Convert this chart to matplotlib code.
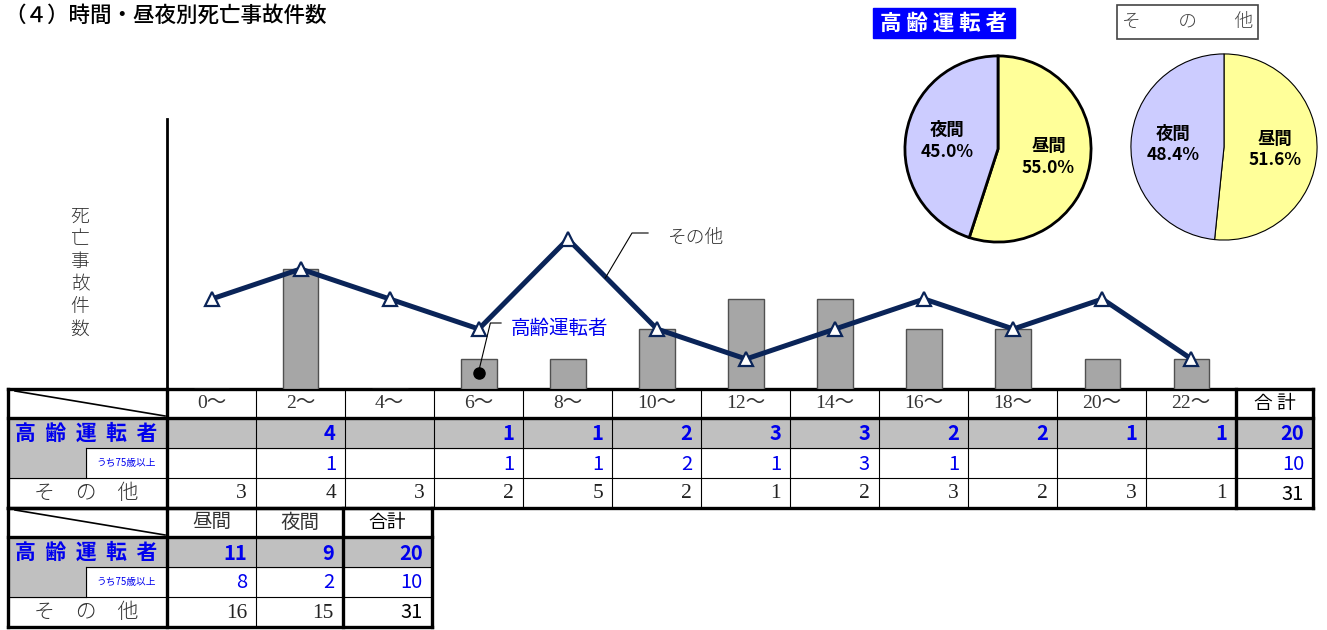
import matplotlib
matplotlib.use("Agg")
import matplotlib.pyplot as plt
from matplotlib.patches import Rectangle

plt.rcParams['font.family'] = ['Noto Sans CJK JP', 'DejaVu Sans']

# data
hours = ["0～", "2～", "4～", "6～", "8～", "10～", "12～", "14～", "16～", "18～", "20～", "22～"]
elderly = [0, 4, 0, 1, 1, 2, 3, 3, 2, 2, 1, 1]
elderly75 = [0, 1, 0, 1, 1, 2, 1, 3, 1, 0, 0, 0]
others = [3, 4, 3, 2, 5, 2, 1, 2, 3, 2, 3, 1]

dn_labels = ["昼間", "夜間"]
elderly_dn = [11, 9]
elderly75_dn = [8, 2]
others_dn = [16, 15]

BLUE = "#0000ee"
NAVY = "#0a2458"
GRAYCELL = "#c0c0c0"
SERIF = ['Liberation Serif', 'Noto Sans CJK JP']

fig = plt.figure(figsize=(13.27, 6.30), dpi=100)
ov = fig.add_axes([0, 0, 1, 1])
ov.set_xlim(0, 1327)
ov.set_ylim(630, 0)
ov.axis('off')

# title
ov.text(4, 16, "（４）時間・昼夜別死亡事故件数", fontsize=15.5, fontweight='medium', va='center', ha='left')

# y label
ov.text(80, 273, "\n".join("死亡事故件数"), fontsize=13.5, va='center', ha='center',
        color='#333333', fontweight='light', linespacing=1.33)

# ---- main chart ----
W, H = 1327, 630
ax = fig.add_axes([167 / W, (H - 389) / H, (1236 - 167) / W, (389 - 119) / H])
ax.patch.set_alpha(0)
x = list(range(len(hours)))
ax.bar(x, elderly, width=0.4, color="#a6a6a6", edgecolor="#505050", linewidth=1, zorder=2)
ax.plot(x, others, color=NAVY, linewidth=3.6, marker='^', markersize=10,
        markerfacecolor='white', markeredgecolor=NAVY, markeredgewidth=1.6, zorder=3)
ax.set_xlim(-0.5, 11.5)
ax.set_ylim(0, 9)
for s in ['top', 'right', 'bottom']:
    ax.spines[s].set_visible(False)
ax.spines['left'].set_linewidth(2)
ax.set_xticks([])
ax.set_yticks([])

# series labels with leader lines
ax.plot([3], [0.55], 'o', color='black', markersize=8, zorder=4)
ax.plot([3.0, 3.13, 3.25], [0.6, 2.2, 2.2], color='black', linewidth=0.8, zorder=4)
ax.text(3.36, 2.0, "高齢運転者", color=BLUE, fontsize=14, va='center', ha='left')
ax.plot([4.42, 4.72, 4.9], [3.7, 5.2, 5.2], color='black', linewidth=0.8, zorder=4)
ax.text(5.12, 5.05, "その他", color='#333333', fontsize=13.5, fontweight='light', va='center', ha='left')

# ---- tables ----
col_x = [167 + 89 * i for i in range(13)]
col_x[-1] = 1236
def hline(y, x0, x1, lw):
    ov.plot([x0, x1], [y, y], color='black', linewidth=lw, solid_capstyle='projecting')
def vline(xx, y0, y1, lw):
    ov.plot([xx, xx], [y0, y1], color='black', linewidth=lw, solid_capstyle='projecting')

THICK, THIN = 2.4, 0.8

def draw_table(top, cols, right, thick_cols, head, rows_e, rows_75, rows_o):
    r = [top, top + 29, top + 59, top + 89, top + 119]
    # gray backgrounds
    ov.add_patch(Rectangle((8, r[1]), right - 8, r[2] - r[1], color=GRAYCELL, zorder=0))
    ov.add_patch(Rectangle((8, r[2]), 86 - 8, r[3] - r[2], color=GRAYCELL, zorder=0))
    # grid
    hline(r[0], 8, right, THICK)
    hline(r[1], 8, right, THICK)
    hline(r[2], 86, right, THIN)
    hline(r[3], 8, right, THIN)
    hline(r[4], 8, right, THICK)
    vline(8, r[0], r[4], THICK)
    vline(right, r[0], r[4], THICK)
    vline(86, r[2], r[3], THIN)
    for i, cx in enumerate(cols):
        vline(cx, r[0], r[4], THICK if i in thick_cols else THIN)
    ov.plot([15, 165], [r[0] + 2, r[1] - 2], color='black', linewidth=1.2)
    # row labels
    ov.text(86, (r[1] + r[2]) / 2, "高  齢  運  転  者", color=BLUE, fontsize=15, fontweight='bold',
            ha='center', va='center')
    ov.text(126, (r[2] + r[3]) / 2, "うち75歳以上", color=BLUE, fontsize=7, ha='center', va='center')
    ov.text(86, (r[3] + r[4]) / 2, "そ　の　他", color='#333333', fontsize=15, fontweight='light',
            ha='center', va='center')
    edges = list(cols) + [right]
    for j in range(len(edges) - 1):
        x0, x1 = edges[j], edges[j + 1]
        h, is_total = head[j]
        if is_total:
            ov.text((x0 + x1) / 2, (r[0] + r[1]) / 2, h, fontsize=13.5, ha='center', va='center')
        else:
            ov.text((x0 + x1) / 2, (r[0] + r[1]) / 2, h, fontsize=14, family=SERIF,
                    color='#333333', ha='center', va='center')
        xr = x1 - 9
        if rows_e[j]:
            ov.text(xr, (r[1] + r[2]) / 2 + 1, str(rows_e[j]), color=BLUE, fontsize=14.5,
                    fontweight='bold', ha='right', va='center')
        if rows_75[j]:
            ov.text(xr, (r[2] + r[3]) / 2 + 1, str(rows_75[j]), color=BLUE, fontsize=14.5,
                    ha='right', va='center')
        if is_total:
            ov.text(xr, (r[3] + r[4]) / 2 + 1, str(rows_o[j]), color='black', fontsize=14.5,
                    ha='right', va='center')
        else:
            ov.text(xr, (r[3] + r[4]) / 2 + 1, str(rows_o[j]), color='#222222', fontsize=15.5,
                    family=SERIF, ha='right', va='center')

head1 = [(h, False) for h in hours] + [("合 計", True)]
draw_table(389, col_x, 1313, {0, 12}, head1,
           elderly + [sum(elderly)], elderly75 + [sum(elderly75)], others + [sum(others)])

head2 = [(h, False) for h in dn_labels] + [("合計", True)]
draw_table(508, [167, 256, 343], 432, {0, 2}, head2,
           elderly_dn + [sum(elderly_dn)], elderly75_dn + [sum(elderly75_dn)],
           others_dn + [sum(others_dn)])

# ---- pies ----
pie_colors = ["#ffff99", "#ccccff"]
def draw_pie(cx, cy, values, edge_lw, title, boxed_blue, box):
    rad = 94
    pa = fig.add_axes([(cx - rad) / W, (H - cy - rad) / H, 2 * rad / W, 2 * rad / H])
    wedges, texts, autot = pa.pie(values, colors=pie_colors, startangle=90, counterclock=False,
                                  autopct='%1.1f%%', pctdistance=0.55,
                                  wedgeprops=dict(edgecolor='black', linewidth=edge_lw))
    for t, name in zip(autot, dn_labels):
        t.set_text(name + "\n" + t.get_text())
        t.set_fontsize(12.5)
        t.set_fontweight('bold')
        t.set_linespacing(1.25)
    pa.set_xlim(-1.01, 1.01)
    pa.set_ylim(-1.01, 1.01)
    pa.set_aspect('equal')
    bx0, by0, bx1, by1 = box
    if boxed_blue:
        ov.add_patch(Rectangle((bx0, by0), bx1 - bx0, by1 - by0, color='#0000ff', zorder=1))
        ov.text((bx0 + bx1) / 2, (by0 + by1) / 2, title, color='white', fontsize=15.5,
                fontweight='bold', ha='center', va='center', zorder=2)
    else:
        ov.add_patch(Rectangle((bx0, by0), bx1 - bx0, by1 - by0, facecolor='white',
                               edgecolor='#444444', linewidth=1.2, zorder=1))
        ov.text((bx0 + bx1) / 2, (by0 + by1) / 2, title, color='#444444', fontsize=13.5,
                fontweight='light', ha='center', va='center', zorder=2)

draw_pie(998, 149, [elderly_dn[0], elderly_dn[1]], 2.0, "高 齢 運 転 者", True, (873, 8, 1015, 38))
draw_pie(1224, 147, [others_dn[0], others_dn[1]], 0.8, "そ　　の　　他", False, (1117, 5, 1258, 39))

fig.savefig("out.png", dpi=100)
